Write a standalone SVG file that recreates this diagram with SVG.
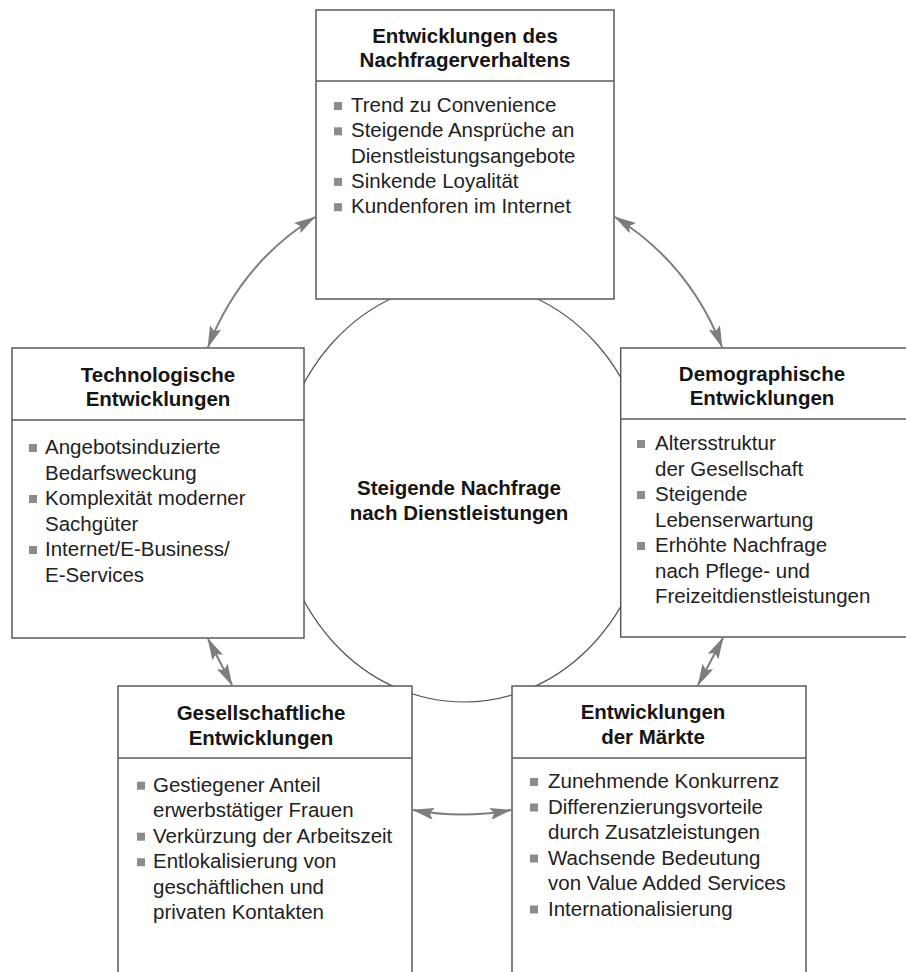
<svg xmlns="http://www.w3.org/2000/svg" width="906" height="972" viewBox="0 0 906 972">
<style>
  .box { fill: #ffffff; stroke: #5a5a5a; stroke-width: 1.5; }
  .div { stroke: #5a5a5a; stroke-width: 1.5; }
  .title { font-family: "Liberation Sans", Arial, Helvetica, sans-serif; font-size: 20.5px; font-weight: bold; fill: #151515; text-anchor: middle; }
  .body { font-family: "Liberation Sans", Arial, Helvetica, sans-serif; font-size: 20.5px; fill: #222222; }
  .bul { fill: #8c8c8c; }
  .conn { fill: none; stroke: #7d7d7d; stroke-width: 2; marker-start: url(#ah); marker-end: url(#ah); }
  .ring { fill: none; stroke: #555555; stroke-width: 1.2; }
</style>
<defs>
  <marker id="ah" markerUnits="userSpaceOnUse" markerWidth="22" markerHeight="12" refX="21" refY="6" orient="auto-start-reverse">
    <path d="M0,0 L22,6 L0,12 L4,6 z" fill="#7d7d7d"/>
  </marker>
</defs>
<rect width="906" height="972" fill="#ffffff"/>

<g id="center">
  <ellipse class="ring" cx="464" cy="492" rx="187" ry="210"/>
  <text class="title" x="459" y="495">Steigende Nachfrage</text>
  <text class="title" x="459" y="520">nach Dienstleistungen</text>
</g>

<g id="connectors">
  <path class="conn" d="M208,347 Q240.6,263.5 315,217"/>
  <path class="conn" d="M722,347 Q689.4,263.5 615,217"/>
  <path class="conn" d="M208,639 L232,685"/>
  <path class="conn" d="M723,638 L698,685"/>
  <path class="conn" d="M413,810 Q462,819 511,810"/>
</g>

<g id="node-nachfrager">
  <rect class="box" x="316" y="10" width="298" height="289"/>
  <line class="div" x1="316" y1="81" x2="614" y2="81"/>
  <text class="title" x="465" y="43">Entwicklungen des</text>
  <text class="title" x="465" y="67">Nachfragerverhaltens</text>
  <rect class="bul" x="334" y="102" width="8" height="8"/>
  <text class="body" x="351" y="112">Trend zu Convenience</text>
  <rect class="bul" x="334" y="127.3" width="8" height="8"/>
  <text class="body" x="351" y="137.3">Steigende Ansprüche an</text>
  <text class="body" x="351" y="162.6">Dienstleistungsangebote</text>
  <rect class="bul" x="334" y="177.9" width="8" height="8"/>
  <text class="body" x="351" y="187.9">Sinkende Loyalität</text>
  <rect class="bul" x="334" y="203.2" width="8" height="8"/>
  <text class="body" x="351" y="213.2">Kundenforen im Internet</text>
</g>

<g id="node-technologisch">
  <rect class="box" x="12" y="348" width="292" height="290"/>
  <line class="div" x1="12" y1="420" x2="304" y2="420"/>
  <text class="title" x="158" y="382">Technologische</text>
  <text class="title" x="158" y="406">Entwicklungen</text>
  <rect class="bul" x="29" y="444" width="8" height="8"/>
  <text class="body" x="45" y="454">Angebotsinduzierte</text>
  <text class="body" x="45" y="479.5">Bedarfsweckung</text>
  <rect class="bul" x="29" y="495" width="8" height="8"/>
  <text class="body" x="45" y="505">Komplexität moderner</text>
  <text class="body" x="45" y="530.5">Sachgüter</text>
  <rect class="bul" x="29" y="546" width="8" height="8"/>
  <text class="body" x="45" y="556">Internet/E-Business/</text>
  <text class="body" x="45" y="581.5">E-Services</text>
</g>

<g id="node-demographisch">
  <rect class="box" x="620.7" y="348" width="295" height="289"/>
  <line class="div" x1="620.7" y1="419" x2="915" y2="419"/>
  <text class="title" x="762" y="381">Demographische</text>
  <text class="title" x="762" y="405">Entwicklungen</text>
  <rect class="bul" x="637" y="440" width="8" height="8"/>
  <text class="body" x="655" y="450">Altersstruktur</text>
  <text class="body" x="655" y="475.5">der Gesellschaft</text>
  <rect class="bul" x="637" y="491" width="8" height="8"/>
  <text class="body" x="655" y="501">Steigende</text>
  <text class="body" x="655" y="526.5">Lebenserwartung</text>
  <rect class="bul" x="637" y="542" width="8" height="8"/>
  <text class="body" x="655" y="552">Erhöhte Nachfrage</text>
  <text class="body" x="655" y="577.5">nach Pflege- und</text>
  <text class="body" x="655" y="603">Freizeitdienstleistungen</text>
</g>

<g id="node-gesellschaftlich">
  <rect class="box" x="118" y="686" width="294" height="290"/>
  <line class="div" x1="118" y1="758" x2="412" y2="758"/>
  <text class="title" x="261" y="720">Gesellschaftliche</text>
  <text class="title" x="261" y="745">Entwicklungen</text>
  <rect class="bul" x="137" y="781.7" width="8" height="8"/>
  <text class="body" x="153" y="791.7">Gestiegener Anteil</text>
  <text class="body" x="153" y="817.2">erwerbstätiger Frauen</text>
  <rect class="bul" x="137" y="832.7" width="8" height="8"/>
  <text class="body" x="153" y="842.7">Verkürzung der Arbeitszeit</text>
  <rect class="bul" x="137" y="858.2" width="8" height="8"/>
  <text class="body" x="153" y="868.2">Entlokalisierung von</text>
  <text class="body" x="153" y="893.7">geschäftlichen und</text>
  <text class="body" x="153" y="919.2">privaten Kontakten</text>
</g>

<g id="node-maerkte">
  <rect class="box" x="512" y="686" width="294" height="290"/>
  <line class="div" x1="512" y1="758" x2="806" y2="758"/>
  <text class="title" x="653" y="719.3">Entwicklungen</text>
  <text class="title" x="653" y="744">der Märkte</text>
  <rect class="bul" x="530" y="778" width="8" height="8"/>
  <text class="body" x="548" y="788">Zunehmende Konkurrenz</text>
  <rect class="bul" x="530" y="803.5" width="8" height="8"/>
  <text class="body" x="548" y="813.5">Differenzierungsvorteile</text>
  <text class="body" x="548" y="839">durch Zusatzleistungen</text>
  <rect class="bul" x="530" y="854.5" width="8" height="8"/>
  <text class="body" x="548" y="864.5">Wachsende Bedeutung</text>
  <text class="body" x="548" y="890">von Value Added Services</text>
  <rect class="bul" x="530" y="905.5" width="8" height="8"/>
  <text class="body" x="548" y="915.5">Internationalisierung</text>
</g>
</svg>
